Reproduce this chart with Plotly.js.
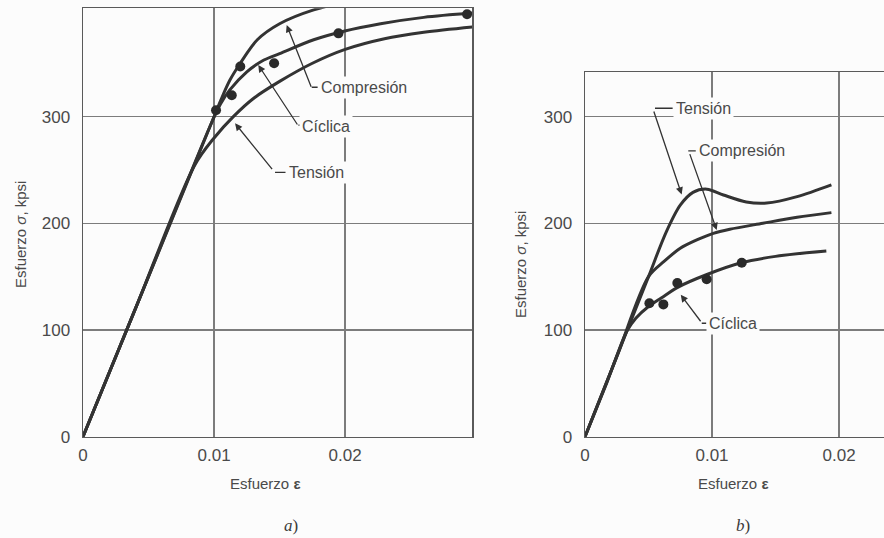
<!DOCTYPE html>
<html>
<head>
<meta charset="utf-8">
<script src="https://cdn.plot.ly/plotly-3.0.1.min.js"></script>
<style>
  html, body { margin: 0; padding: 0; background: #fcfcfc; }
  #chart { width: 884px; height: 538px; }
</style>
</head>
<body>
<div id="chart"></div>
<script>
// ---- Panel a): stress-strain curves (strain, stress in kpsi) ----
const strainA_tension = [0, 0.004, 0.0085, 0.0100, 0.01147, 0.0130, 0.0150, 0.0175, 0.0200, 0.0230, 0.0260, 0.0297];
const stressA_tension = [0, 120, 254, 280, 300, 317, 333, 350, 363, 373, 379, 384];

const strainA_cyclic = [0, 0.004, 0.0098, 0.0105, 0.0112, 0.0125, 0.0138, 0.0150, 0.0176, 0.0199, 0.0227, 0.0260, 0.0297];
const stressA_cyclic = [0, 120, 294, 312, 325, 342, 353, 359, 372, 380, 387, 393, 397];

const strainA_compression = [0, 0.004, 0.0098, 0.0105, 0.0112, 0.0120, 0.0133, 0.0150, 0.0176, 0.0200, 0.0240, 0.0297];
const stressA_compression = [0, 120, 294, 315, 334, 350, 372, 387, 400, 407, 413, 418];

const strainA_points = [0.01015, 0.01135, 0.0120, 0.01458, 0.01949, 0.0293];
const stressA_points = [306, 320, 347, 350, 378, 396];

// ---- Panel b) ----
const strainB_tension = [0, 0.0025, 0.0050, 0.0064, 0.0075, 0.0085, 0.0096, 0.0109, 0.0127, 0.0143, 0.0167, 0.0194];
const stressB_tension = [0, 75, 150, 192, 217, 229, 232, 226.5, 220, 219, 225, 236];

const strainB_compression = [0, 0.0025, 0.0050, 0.0062, 0.0075, 0.0088, 0.0101, 0.0114, 0.0140, 0.0167, 0.0194];
const stressB_compression = [0, 75, 150, 164, 176.6, 184.4, 190.6, 194.4, 200, 205.6, 210];

const strainB_cyclic = [0, 0.0017, 0.0033, 0.0040, 0.0050, 0.0060, 0.0073, 0.0096, 0.0123, 0.0150, 0.0190];
const stressB_cyclic = [0, 50, 99, 111, 122, 130, 140, 152, 163, 169, 174];

const strainB_points = [0.00507, 0.00617, 0.00727, 0.00958, 0.01234];
const stressB_points = [125, 124, 144, 147.5, 163];

// ---- Tick labels ----
const strainTicks = [0, 0.01, 0.02];
const strainTickText = ['0', '0.01', '0.02'];
const stressTicks = [0, 100, 200, 300];
const stressTickText = ['0', '100', '200', '300'];

const INK = '#333333';
const TEXT = '#4a4a4a';
const BG = '#fcfcfc';

function curve(x, y, xa, ya) {
  return {
    type: 'scatter', mode: 'lines', x: x, y: y, xaxis: xa, yaxis: ya,
    line: { color: INK, width: 3, shape: 'spline', smoothing: 0.9 },
    hoverinfo: 'skip', showlegend: false
  };
}
function dots(x, y, xa, ya) {
  return {
    type: 'scatter', mode: 'markers', x: x, y: y, xaxis: xa, yaxis: ya,
    marker: { color: '#2a2a2a', size: 10 },
    hoverinfo: 'skip', showlegend: false
  };
}

const data = [
  curve(strainA_tension, stressA_tension, 'x', 'y'),
  curve(strainA_cyclic, stressA_cyclic, 'x', 'y'),
  curve(strainA_compression, stressA_compression, 'x', 'y'),
  dots(strainA_points, stressA_points, 'x', 'y'),
  curve(strainB_tension, stressB_tension, 'x2', 'y2'),
  curve(strainB_compression, stressB_compression, 'x2', 'y2'),
  curve(strainB_cyclic, stressB_cyclic, 'x2', 'y2'),
  dots(strainB_points, stressB_points, 'x2', 'y2')
];

const tickFont = { family: 'Liberation Sans, Arial, sans-serif', size: 17, color: TEXT };

function xAxis(domain, range, anchor, mirror) {
  return {
    domain: domain, range: range, anchor: anchor,
    tickvals: strainTicks, ticktext: strainTickText, tickfont: tickFont,
    ticks: '', ticklabelstandoff: 2,
    showgrid: true, gridcolor: '#7c7c7c', gridwidth: 1.4,
    zeroline: false, showline: true, linecolor: '#5a5a5a', linewidth: 1.5,
    mirror: mirror, fixedrange: true
  };
}
function yAxis(domain, range, anchor, mirror) {
  return {
    domain: domain, range: range, anchor: anchor,
    tickvals: stressTicks, ticktext: stressTickText, tickfont: tickFont,
    ticks: '', ticklabelstandoff: 8,
    showgrid: true, gridcolor: '#7c7c7c', gridwidth: 1.4,
    zeroline: false, showline: true, linecolor: '#5a5a5a', linewidth: 1.5,
    mirror: mirror, fixedrange: true
  };
}

const labelFont = { family: 'Liberation Sans, Arial, sans-serif', size: 16, color: TEXT };

// Curve labels: text box plus leader arrow from a small hook to the curve
function curveLabel(xa, ya, text, tx, ty) {
  return {
    xref: xa, yref: ya, x: tx, y: ty, text: text, showarrow: false,
    xanchor: 'left', yanchor: 'middle', font: labelFont,
    bgcolor: BG, borderpad: 2
  };
}
function leader(xa, ya, tipX, tipY, tailX, tailY) {
  return {
    xref: xa, yref: ya, x: tipX, y: tipY,
    axref: xa, ayref: ya, ax: tailX, ay: tailY,
    text: '', showarrow: true, arrowhead: 2, arrowsize: 1.1,
    arrowwidth: 1.3, arrowcolor: INK, standoff: 0, startstandoff: 0
  };
}
function hook(xa, ya, x0, x1, y) {
  return {
    type: 'line', xref: xa, yref: ya, x0: x0, x1: x1, y0: y, y1: y,
    line: { color: INK, width: 1.3 }
  };
}

const W = 884, H = 538;
function paperText(px, py, text, font, angle) {
  return {
    xref: 'paper', yref: 'paper', x: px / W, y: 1 - py / H,
    xanchor: 'center', yanchor: 'middle', text: text, showarrow: false,
    font: font, textangle: angle || 0
  };
}
const titleFont = { family: 'Liberation Sans, Arial, sans-serif', size: 15, color: TEXT };
const panelFont = { family: 'Liberation Serif, Times New Roman, serif', size: 17, color: '#3a3a3a' };

const annotations = [
  // panel a)
  curveLabel('x', 'y', 'Compresión', 0.01790, 327.5),
  leader('x', 'y', 0.01554, 385.8, 0.01745, 326.5),
  curveLabel('x', 'y', 'Cíclica', 0.01650, 291),
  leader('x', 'y', 0.01337, 348.4, 0.01643, 291.2),
  curveLabel('x', 'y', 'Tensión', 0.01550, 247.5),
  leader('x', 'y', 0.01160, 293.7, 0.01452, 249.3),
  // panel b)
  curveLabel('x2', 'y2', 'Tensión', 0.00695, 307.8),
  leader('x2', 'y2', 0.00761, 227, 0.00538, 306.2),
  curveLabel('x2', 'y2', 'Compresión', 0.00876, 267.8),
  leader('x2', 'y2', 0.01037, 193.7, 0.00821, 266.2),
  curveLabel('x2', 'y2', 'Cíclica', 0.00955, 106.3),
  leader('x2', 'y2', 0.00754, 133, 0.00919, 106.8),
  // axis titles and panel labels
  paperText(20, 235, 'Esfuerzo <i>σ</i>, kpsi', titleFont, -90),
  paperText(265, 483, 'Esfuerzo <b>ε</b>', titleFont),
  paperText(520, 265, 'Esfuerzo <i>σ</i>, kpsi', titleFont, -90),
  paperText(733, 483, 'Esfuerzo <b>ε</b>', titleFont),
  paperText(291, 525, '<i>a</i>)', panelFont),
  paperText(743, 525, '<i>b</i>)', panelFont)
];

const shapes = [
  hook('x', 'y', 0.01745, 0.01790, 327.5),
  hook('x', 'y', 0.01643, 0.01668, 292),
  hook('x', 'y', 0.01465, 0.01545, 247.8),
  hook('x2', 'y2', 0.00551, 0.00690, 307.8),
  hook('x2', 'y2', 0.00813, 0.00872, 267.8),
  hook('x2', 'y2', 0.00919, 0.00955, 106.3)
];

const layout = {
  width: W, height: H,
  margin: { l: 0, r: 0, t: 0, b: 0 },
  paper_bgcolor: BG, plot_bgcolor: BG,
  showlegend: false,
  xaxis: xAxis([83 / W, 472.3 / W], [0, 0.0297], 'y', true),
  yaxis: yAxis([1 - 436.7 / H, 1 - 8.3 / H], [0, 401.5], 'x', true),
  xaxis2: xAxis([585 / W, 1], [0, 0.02354], 'y2', true),
  yaxis2: yAxis([1 - 436.7 / H, 1 - 72.3 / H], [0, 341.5], 'x2', false),
  annotations: annotations,
  shapes: shapes
};

Plotly.newPlot('chart', data, layout, { staticPlot: true, displayModeBar: false });
</script>
</body>
</html>
